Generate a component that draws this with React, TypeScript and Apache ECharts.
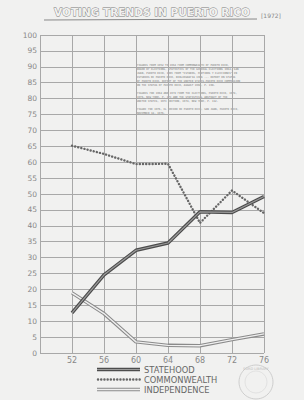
import React, { useEffect, useRef } from "react";
import * as echarts from "echarts";

const years = [52, 56, 60, 64, 68, 72, 76];
const statehood = [12.6, 24.6, 32.3, 34.6, 44.4, 44.2, 49.2];
const commonwealth = [65.2, 62.6, 59.4, 59.5, 40.9, 51.1, 44.0];
const independence = [18.9, 12.4, 3.5, 2.4, 2.3, 4.2, 6.0];
const legendNames = ["STATEHOOD", "COMMONWEALTH", "INDEPENDENCE"];
const noteLines = [
  "FIGURES FROM 1952 TO 1964 FROM COMMONWEALTH OF PUERTO RICO,",
  "BOARD OF ELECTIONS, STATISTICS OF THE GENERAL ELECTIONS 1964, SAN",
  "JUAN, PUERTO RICO, 1965 FROM \"ESTADOS, PARTIDOS Y ELECCIONES\" IN",
  "ESTUDIOS DE PUERTO RICO, BIBLIOGRAFIA 1966 ... REPORT ON STATUS",
  "OF PUERTO RICO, REPORT OF THE UNITED STATES-PUERTO RICO COMMISSION",
  "ON THE STATUS OF PUERTO RICO, AUGUST 1966, P. 190.",
  "",
  "FIGURES FOR 1968 AND 1972 FROM THE ELECTIONS, PUERTO RICO, 1974,",
  "1976, NEW YORK, P. 173 AND THE STATISTICAL ABSTRACT OF THE",
  "UNITED STATES, 1973 EDITION, 1974, NEW YORK, P. 112.",
  "",
  "FIGURE FOR 1976, EL VOCERO DE PUERTO RICO, SAN JUAN, PUERTO RICO,",
  "NOVEMBER 18, 1976.",
];

export default function App() {
  const ref = useRef<HTMLDivElement>(null);
  useEffect(() => {
    if (!ref.current) return;
    const chart = echarts.init(ref.current, undefined, { renderer: "svg" });
    const grid = { left: 40, right: 40, top: 35, bottom: 47 };
    const pts = (arr: number[]) => years.map((y, i) => [y, arr[i]]);
    const noteGraphics = noteLines.map((t, i) => ({
      type: "text",
      left: 137,
      top: 64 + i * 4,
      silent: true,
      style: { text: t, font: "2.6px 'DejaVu Sans Mono'", fill: "#777" },
    }));
    const legY = [369.5, 379.5, 389.5];
    const dotStyle = { stroke: "#666", lineWidth: 2.4, lineDash: [0.1, 3.1], lineCap: "round" };
    chart.setOption({
      animation: false,
      backgroundColor: "#f1f1f0",
      grid,
      xAxis: {
        type: "value",
        min: 48,
        max: 76,
        interval: 4,
        axisLine: { show: false },
        axisTick: { show: false },
        axisLabel: {
          color: "#888",
          fontSize: 8,
          fontFamily: "DejaVu Sans",
          margin: 3,
          formatter: (v: number) => (v === 48 ? "" : String(v)),
        },
        splitLine: { show: true, lineStyle: { color: "#a8a8a8", width: 1 } },
      },
      yAxis: {
        type: "value",
        min: 0,
        max: 100,
        interval: 5,
        axisLine: { show: false },
        axisTick: { show: false },
        axisLabel: { color: "#888", fontSize: 7.5, fontFamily: "DejaVu Sans", margin: 3 },
        splitLine: { show: true, lineStyle: { color: "#a8a8a8", width: 1 } },
      },
      series: [
        { type: "line", data: pts(independence), symbol: "none", silent: true, lineStyle: { color: "#8a8a8a", width: 3.5 } },
        { name: legendNames[2], type: "line", data: pts(independence), symbol: "none", lineStyle: { color: "#efefef", width: 1.4 } },
        { name: legendNames[1], type: "line", data: pts(commonwealth), symbol: "none", lineStyle: { color: "#666", width: 2.4, type: [0.1, 3.1], cap: "round" } },
        { type: "line", data: pts(statehood), symbol: "none", silent: true, lineStyle: { color: "#4c4c4c", width: 3.5 } },
        { name: legendNames[0], type: "line", data: pts(statehood), symbol: "none", lineStyle: { color: "#9a9a9a", width: 1.2 } },
      ],
      graphic: [
        {
          type: "text",
          x: 152,
          y: 12,
          style: {
            text: "VOTING TRENDS IN PUERTO RICO",
            font: "bold 10.5px 'DejaVu Sans'",
            fill: "#f1f1f0",
            stroke: "#7a7a7a",
            lineWidth: 0.8,
            align: "center",
            verticalAlign: "middle",
          },
        },
        { type: "line", shape: { x1: 44, y1: 20, x2: 257, y2: 19 }, style: { stroke: "#888", lineWidth: 1 } },
        { type: "text", x: 261, y: 15, style: { text: "[1972]", font: "6px 'DejaVu Sans'", fill: "#888", verticalAlign: "middle" } },
        ...noteGraphics,
        { type: "line", shape: { x1: 97, y1: legY[0], x2: 140, y2: legY[0] }, style: { stroke: "#4c4c4c", lineWidth: 3.5 } },
        { type: "line", shape: { x1: 97, y1: legY[0], x2: 140, y2: legY[0] }, style: { stroke: "#9a9a9a", lineWidth: 1.2 } },
        { type: "line", shape: { x1: 98, y1: legY[1], x2: 140, y2: legY[1] }, style: dotStyle },
        { type: "line", shape: { x1: 97, y1: legY[2], x2: 140, y2: legY[2] }, style: { stroke: "#8a8a8a", lineWidth: 3.5 } },
        { type: "line", shape: { x1: 97, y1: legY[2], x2: 140, y2: legY[2] }, style: { stroke: "#efefef", lineWidth: 1.4 } },
        ...legendNames.map((n, i) => ({
          type: "text",
          x: 144,
          y: legY[i],
          style: { text: n, font: "8.3px 'DejaVu Sans'", fill: "#666", verticalAlign: "middle" },
        })),
        { type: "circle", shape: { cx: 256, cy: 382, r: 17 }, style: { fill: "none", stroke: "#c4c4c4", lineWidth: 0.8 } },
        { type: "circle", shape: { cx: 256, cy: 382, r: 11 }, style: { fill: "none", stroke: "#d0d0d0", lineWidth: 0.5 } },
        { type: "text", x: 256, y: 369, style: { text: "FORD LIBRARY", font: "3.5px 'DejaVu Sans'", fill: "#bbb", align: "center", verticalAlign: "middle" } },
      ],
    });
    return () => chart.dispose();
  }, []);
  return <div ref={ref} style={{ position: "fixed", left: 0, top: 0, width: 304, height: 400 }} />;
}
